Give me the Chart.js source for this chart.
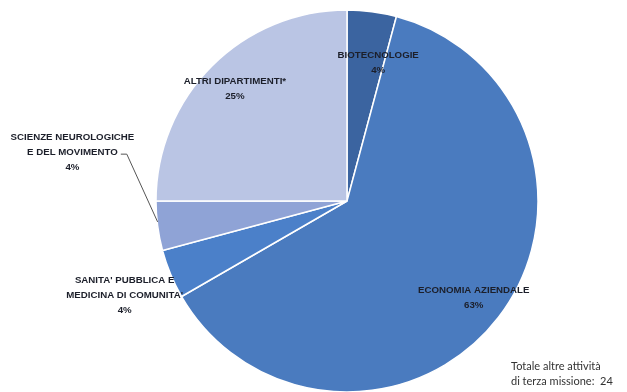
<!DOCTYPE html>
<html>
<head>
    <title>Altre attività di terza missione</title>
    <script src="https://cdn.jsdelivr.net/npm/chart.js"></script>
    <style>
        html, body { margin: 0; padding: 0; background: #fff; }
        #wrap { position: relative; width: 627px; height: 392px; }
    </style>
</head>
<body>
<div id="wrap">
    <canvas id="pieChart" width="627" height="392"></canvas>
</div>
<script>
// dati
const dipartimenti = [
    ['BIOTECNOLOGIE'],
    ['ECONOMIA AZIENDALE'],
    ["SANITA' PUBBLICA E", "MEDICINA DI COMUNITA'"],
    ['SCIENZE NEUROLOGICHE', 'E DEL MOVIMENTO'],
    ['ALTRI DIPARTIMENTI*']
];
const attivita = [1, 15, 1, 1, 6];
const percentuali = ['4%', '63%', '4%', '4%', '25%'];
const colori = ['#3b64a0', '#4a7bbf', '#4b80c9', '#8fa3d6', '#bac5e4'];
const totale = 24;

// posizione etichette: frazione del raggio lungo l'angolo medio + spostamento
const posEtichette = [
    { f: 0.73, dx: 13, dy: 0, leader: false },
    { f: 0.83, dx: 1, dy: 0, leader: false },
    { f: 1.26, dx: 0, dy: 2, leader: false },
    { f: 1.45, dx: 0, dy: -85, leader: true },
    { f: 0.83, dx: 0, dy: 0, leader: false }
];

const etichettePlugin = {
    id: 'etichette',
    afterDatasetsDraw(chart) {
        const ctx = chart.ctx;
        const meta = chart.getDatasetMeta(0);
        ctx.save();
        meta.data.forEach((arc, i) => {
            const p = arc.getProps(['x', 'y', 'startAngle', 'endAngle', 'outerRadius'], true);
            const mid = (p.startAngle + p.endAngle) / 2;
            const opt = posEtichette[i];
            const cx = p.x + Math.cos(mid) * p.outerRadius * opt.f + opt.dx;
            const cy = p.y + Math.sin(mid) * p.outerRadius * opt.f + opt.dy;
            const righe = dipartimenti[i].concat([percentuali[i]]);
            const lh = 15;
            ctx.font = 'bold 9.7px "Liberation Sans", Arial, sans-serif';
            ctx.fillStyle = '#1c1f2a';
            ctx.textAlign = 'center';
            ctx.textBaseline = 'middle';
            const y0 = cy - (righe.length - 1) * lh / 2;
            righe.forEach((t, k) => ctx.fillText(t, cx, y0 + k * lh));
            if (opt.leader) {
                const w = ctx.measureText(dipartimenti[i][1]).width;
                const lx = cx + w / 2 + 3;
                const ly = y0 + lh + 2;
                const ex = p.x + Math.cos(mid) * p.outerRadius;
                const ey = p.y + Math.sin(mid) * p.outerRadius - 4;
                ctx.strokeStyle = '#555';
                ctx.lineWidth = 1;
                ctx.beginPath();
                ctx.moveTo(lx, ly);
                ctx.lineTo(lx + 6, ly);
                ctx.lineTo(ex, ey);
                ctx.stroke();
            }
        });
        // nota totale
        ctx.font = '11px Lato, "Liberation Sans", sans-serif';
        ctx.fillStyle = '#333';
        ctx.textAlign = 'left';
        ctx.textBaseline = 'middle';
        ctx.fillText('Totale altre attività', 511, 366);
        ctx.fillText('di terza missione:  ' + totale, 511, 381);
        ctx.restore();
    }
};

new Chart(document.getElementById('pieChart').getContext('2d'), {
    type: 'pie',
    data: {
        labels: dipartimenti.map(d => d.join(' ')),
        datasets: [{
            data: attivita,
            backgroundColor: colori,
            borderColor: '#ffffff',
            borderWidth: 1.5,
            hoverOffset: 0
        }]
    },
    options: {
        responsive: false,
        animation: false,
        radius: 191,
        layout: { padding: { top: 10, bottom: 0, left: 67, right: 0 } },
        plugins: {
            legend: { display: false },
            tooltip: { enabled: false }
        }
    },
    plugins: [etichettePlugin]
});
</script>
</body>
</html>
